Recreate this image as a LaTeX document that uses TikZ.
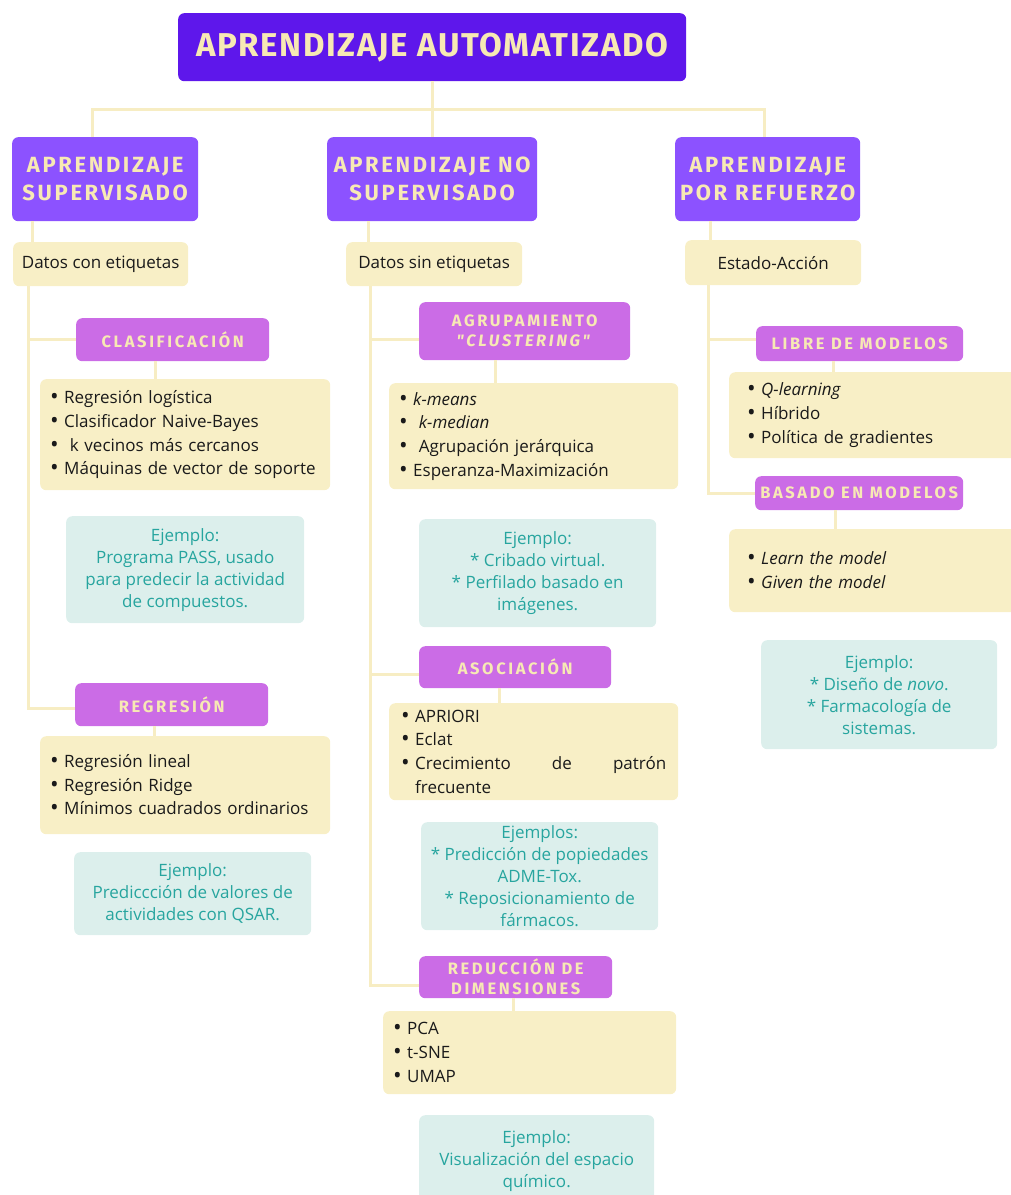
\documentclass[tikz,border=0pt]{standalone}
\usepackage{fontspec}
\setmainfont{Open Sans}
\newfontfamily\fuenteTit{Fira Sans}[LetterSpace=5]
\newfontfamily\fuenteA{Fira Sans}[LetterSpace=12]
\newfontfamily\fuenteB{Fira Sans}[LetterSpace=16]
\definecolor{morado}{HTML}{5E17EB}
\definecolor{violeta}{HTML}{8C52FF}
\definecolor{lila}{HTML}{CB6CE6}
\definecolor{crema}{HTML}{F8EFC6}
\definecolor{letra}{HTML}{F7E9B4}
\definecolor{linea}{HTML}{F7EDC3}
\definecolor{aguaclaro}{HTML}{DCEFEC}
\definecolor{agua}{HTML}{27A59F}
\definecolor{tinta}{HTML}{1A1A1A}
\newcommand\punto[1]{\makebox[14pt][l]{\raisebox{-1pt}{\scalebox{1.35}{\textbullet}}}#1}
\tikzset{
  link/.style={draw=linea, line width=3pt},
  caja/.style={anchor=north west, rounded corners=6pt, inner sep=0pt, align=center},
  titulo/.style={caja, fill=morado, text=letra, font=\fuenteTit\bfseries\fontsize{33}{38}\selectfont},
  nivelA/.style={caja, fill=violeta, text=letra, font=\fuenteA\bfseries\fontsize{22}{28}\selectfont},
  nivelB/.style={caja, fill=lila, text=letra, font=\fuenteB\bfseries\fontsize{16.5}{20}\selectfont},
  datos/.style={caja, fill=crema, text=tinta, font=\fontsize{17}{20}\selectfont},
  lista/.style={caja, fill=crema, text=tinta, align=left, inner xsep=10pt, font=\fontsize{17}{23.7}\selectfont},
  ejemplo/.style={caja, fill=aguaclaro, text=agua, font=\fontsize{17}{22}\selectfont}
}
\begin{document}
\begin{tikzpicture}[x=1pt, y=-1pt]
  \useasboundingbox (0,0) rectangle (1011,1195);
  \clip (0,0) rectangle (1011,1195);
  % titulo y tipos de aprendizaje
  \node[titulo, minimum width=508, minimum height=68] (tit) at (178,13) {APRENDIZAJE AUTOMATIZADO};
  \node[nivelA, minimum width=186, minimum height=84] (sup) at (12,137) {APRENDIZAJE\\SUPERVISADO};
  \node[nivelA, minimum width=210, minimum height=84] (nosup) at (327,137) {APRENDIZAJE NO\\SUPERVISADO};
  \node[nivelA, minimum width=185, minimum height=84] (ref) at (675,137) {APRENDIZAJE\\POR REFUERZO};
  \node[datos, minimum width=175, minimum height=44] (dcon) at (13,242) {Datos con etiquetas};
  \node[datos, minimum width=176, minimum height=44] (dsin) at (346,242) {Datos sin etiquetas};
  \node[datos, minimum width=176, minimum height=45] (esta) at (685,240) {Estado-Acción};
  % supervisado
  \node[nivelB, minimum width=193, minimum height=43] (clas) at (76,318) {CLASIFICACIÓN};
  \node[lista, minimum width=290, minimum height=111, text width=270] (clist) at (40,379)
    {\punto{Regresión logística}\\\punto{Clasificador Naive-Bayes}\\\punto{\ k vecinos más cercanos}\\\punto{Máquinas de vector de soporte}};
  \node[ejemplo, minimum width=238, minimum height=107] (cex) at (66,516)
    {Ejemplo:\\Programa PASS, usado\\para predecir la actividad\\de compuestos.};
  \node[nivelB, minimum width=193, minimum height=43] (regr) at (75,683) {REGRESIÓN};
  \node[lista, minimum width=290, minimum height=98, text width=270] (rlist) at (40,736)
    {\punto{Regresión lineal}\\\punto{Regresión Ridge}\\\punto{Mínimos cuadrados ordinarios}};
  \node[ejemplo, minimum width=237, minimum height=83] (rex) at (74,852)
    {Ejemplo:\\Prediccción de valores de\\actividades con QSAR.};
  % no supervisado
  \node[nivelB, minimum width=211, minimum height=58] (agru) at (419,302) {AGRUPAMIENTO\\\textit{"CLUSTERING"}};
  \node[lista, minimum width=289, minimum height=106, text width=269] (alist) at (389,383)
    {\punto{\textit{k-means}}\\\punto{\ \textit{k-median}}\\\punto{\ Agrupación jerárquica}\\\punto{Esperanza-Maximización}};
  \node[ejemplo, minimum width=237, minimum height=108] (aex) at (419,519)
    {Ejemplo:\\* Cribado virtual.\\* Perfilado basado en\\imágenes.};
  \node[nivelB, minimum width=192, minimum height=42] (asoc) at (419,646) {ASOCIACIÓN};
  \node[lista, minimum width=289, minimum height=97, text width=265, inner xsep=12pt] (slist) at (389,703)
    {\punto{APRIORI}\\\punto{Eclat}\\\punto{\makebox[251pt][l]{Crecimiento\hfill de\hfill patrón}}\\\hspace*{14pt}frecuente};
  \node[ejemplo, minimum width=237, minimum height=108] (sex) at (421,822)
    {Ejemplos:\\* Predicción de popiedades\\ADME-Tox.\\* Reposicionamiento de\\fármacos.};
  \node[nivelB, minimum width=193, minimum height=42] (redu) at (419,956) {REDUCCIÓN DE\\DIMENSIONES};
  \node[lista, minimum width=293, minimum height=83, text width=273] (dlist) at (383,1011)
    {\punto{PCA}\\\punto{t-SNE}\\\punto{UMAP}};
  \node[ejemplo, minimum width=235, minimum height=92] (dex) at (419,1115)
    {Ejemplo:\\Visualización del espacio\\químico.};
  % refuerzo
  \node[nivelB, minimum width=207, minimum height=35] (libre) at (756,326) {LIBRE DE MODELOS};
  \node[lista, minimum width=295, minimum height=86, text width=259, inner xsep=18pt] (llist) at (729,372)
    {\punto{\textit{Q-learning}}\\\punto{Híbrido}\\\punto{Política de gradientes}};
  \node[nivelB, minimum width=208, minimum height=34] (basa) at (755,476) {BASADO EN MODELOS};
  \node[lista, minimum width=295, minimum height=83, text width=259, inner xsep=18pt] (blist) at (729,529)
    {\punto{\textit{Learn the model}}\\\punto{\textit{Given the model}}};
  \node[ejemplo, minimum width=236, minimum height=109] (fex) at (761,640)
    {Ejemplo:\\* Diseño de \textit{novo}.\\* Farmacología de\\sistemas.};
  % conexiones
  \path (tit.south) ++(0,28) coordinate (cruce);
  \draw[link] (tit.south) -- (nosup.north);
  \draw[link] ([xshift=80pt]sup.north west) |- (cruce) -| ([xshift=89pt]ref.north west);
  \draw[link] ([xshift=20pt]sup.south west) -- ([xshift=19pt]dcon.north west);
  \draw[link] ([xshift=41pt]nosup.south west) -- ([xshift=22pt]dsin.north west);
  \draw[link] ([xshift=35pt]ref.south west) -- ([xshift=25pt]esta.north west);
  \draw[link] ([xshift=15pt]dcon.south west) |- (clas.west);
  \draw[link] ([xshift=15pt]dcon.south west) |- ([yshift=-4pt]regr.west);
  \draw[link] ([xshift=79pt]clas.south west) -- ([xshift=115pt]clist.north west);
  \draw[link] ([xshift=79pt]regr.south west) -- ([xshift=114pt]rlist.north west);
  \draw[link] ([xshift=24pt]dsin.south west) |- ([yshift=-8pt]agru.west);
  \draw[link] ([xshift=24pt]dsin.south west) |- ([yshift=-7pt]asoc.west);
  \draw[link] ([xshift=24pt]dsin.south west) |- ([yshift=-8pt]redu.west);
  \draw[link] ([xshift=76pt]agru.south west) -- ([xshift=106pt]alist.north west);
  \draw[link] ([xshift=80pt]asoc.south west) -- ([xshift=110pt]slist.north west);
  \draw[link] ([xshift=94pt]redu.south west) -- ([xshift=130pt]dlist.north west);
  \draw[link] ([xshift=23pt]esta.south west) |- ([yshift=4pt]libre.west);
  \draw[link] ([xshift=23pt]esta.south west) |- (basa.west);
  \draw[link] ([xshift=77pt]libre.south west) -- ([xshift=104pt]llist.north west);
  \draw[link] ([xshift=80pt]basa.south west) -- ([xshift=106pt]blist.north west);
\end{tikzpicture}
\end{document}
